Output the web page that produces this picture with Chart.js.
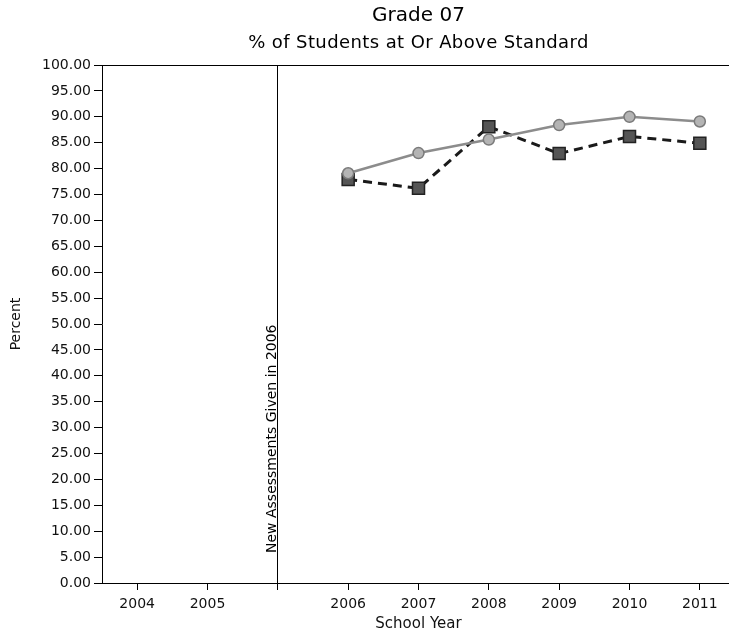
<!DOCTYPE html>
<html>
<head>
<meta charset="utf-8">
<script src="https://cdn.jsdelivr.net/npm/chart.js@4"></script>
<style>
  html, body { margin: 0; padding: 0; background: #fff; }
  #wrap { width: 729px; height: 634px; overflow: hidden; position: relative; }
  canvas { display: block; }
</style>
</head>
<body>
<div id="wrap"><canvas id="c" width="745" height="634"></canvas></div>
<script>
// ---- data ----
const schoolYears = ['2004', '2005', '', '2006', '2007', '2008', '2009', '2010', '2011'];
const seriesGray = [null, null, null, 79.1, 83.0, 85.6, 88.4, 90.0, 89.1];
const seriesDark = [null, null, null, 77.9, 76.2, 88.1, 82.9, 86.2, 84.9];
const yTicksMin = 0;
const yTicksMax = 100;
const yTickStep = 5;
const titleText = 'Grade 07';
const subtitleText = '% of Students at Or Above Standard';
const annotationText = 'New Assessments Given in 2006';
const annotationIndex = 2;

const FONT = '"DejaVu Sans", sans-serif';

const textPlugin = {
  id: 'textPlugin',
  afterDraw(chart) {
    const ctx = chart.ctx;
    const area = chart.chartArea;
    const cx = (area.left + area.right) / 2;
    ctx.save();
    ctx.fillStyle = '#000';
    ctx.textAlign = 'center';
    ctx.textBaseline = 'alphabetic';
    ctx.font = '20px ' + FONT;
    ctx.fillText(titleText, cx, 21);
    ctx.font = '18px ' + FONT;
    try { ctx.letterSpacing = '0.4px'; } catch (e) {}
    ctx.fillText(subtitleText, cx, 47.5);
    try { ctx.letterSpacing = '0px'; } catch (e) {}
    // rotated annotation next to separator line
    const xs = chart.scales.x;
    const lx = xs.getPixelForTick(annotationIndex);
    ctx.translate(lx - 2, area.bottom - 30);
    ctx.rotate(-Math.PI / 2);
    ctx.textAlign = 'left';
    ctx.font = '14px ' + FONT;
    ctx.fillText(annotationText, 0, 0);
    ctx.restore();
  }
};

new Chart(document.getElementById('c'), {
  type: 'line',
  data: {
    labels: schoolYears,
    datasets: [
      {
        label: 'Gray',
        data: seriesGray,
        borderColor: '#8c8c8c',
        borderWidth: 2.5,
        pointStyle: 'circle',
        pointRadius: 5.5,
        pointBackgroundColor: '#b4b4b4',
        pointBorderColor: '#7a7a7a',
        pointBorderWidth: 1.5,
        tension: 0
      },
      {
        label: 'Dark',
        data: seriesDark,
        borderColor: '#1a1a1a',
        borderWidth: 3,
        borderDash: [9, 6],
        pointStyle: 'rect',
        pointRadius: 8.5,
        pointBackgroundColor: '#555555',
        pointBorderColor: '#222222',
        pointBorderWidth: 1.5,
        tension: 0
      }
    ]
  },
  options: {
    responsive: false,
    animation: false,
    devicePixelRatio: 1,
    layout: { padding: { top: 65, right: 8, bottom: 0, left: 0 } },
    plugins: {
      legend: { display: false },
      title: { display: false },
      tooltip: { enabled: false }
    },
    scales: {
      x: {
        type: 'category',
        offset: true,
        border: { display: true, color: '#000', width: 1 },
        grid: {
          offset: false,
          drawOnChartArea: true,
          drawTicks: true,
          tickLength: 7,
          tickColor: '#000',
          color: (c) => (c.index === annotationIndex ? '#000' : 'rgba(0,0,0,0)'),
          lineWidth: 1
        },
        ticks: {
          autoSkip: false,
          maxRotation: 0,
          padding: 6,
          color: '#111',
          font: { family: FONT, size: 14 }
        },
        title: {
          display: true,
          text: 'School Year',
          color: '#111',
          font: { family: FONT, size: 15 },
          padding: { top: 0, bottom: 1 }
        },
        afterFit: (s) => { s.height = 51; }
      },
      y: {
        min: yTicksMin,
        max: yTicksMax,
        border: { display: true, color: '#000', width: 1 },
        grid: {
          drawTicks: true,
          tickLength: 8,
          tickColor: '#000',
          color: (c) => (c.tick && c.tick.value === yTicksMax ? '#000' : 'rgba(0,0,0,0)'),
          lineWidth: 1
        },
        ticks: {
          stepSize: yTickStep,
          padding: 3,
          color: '#111',
          font: { family: FONT, size: 14 },
          callback: (v) => Number(v).toFixed(2)
        },
        title: {
          display: true,
          text: 'Percent',
          color: '#111',
          font: { family: FONT, size: 14 },
          padding: { top: 8, bottom: 0 }
        },
        afterFit: (s) => { s.width = 102; }
      }
    }
  },
  plugins: [textPlugin]
});
</script>
</body>
</html>
